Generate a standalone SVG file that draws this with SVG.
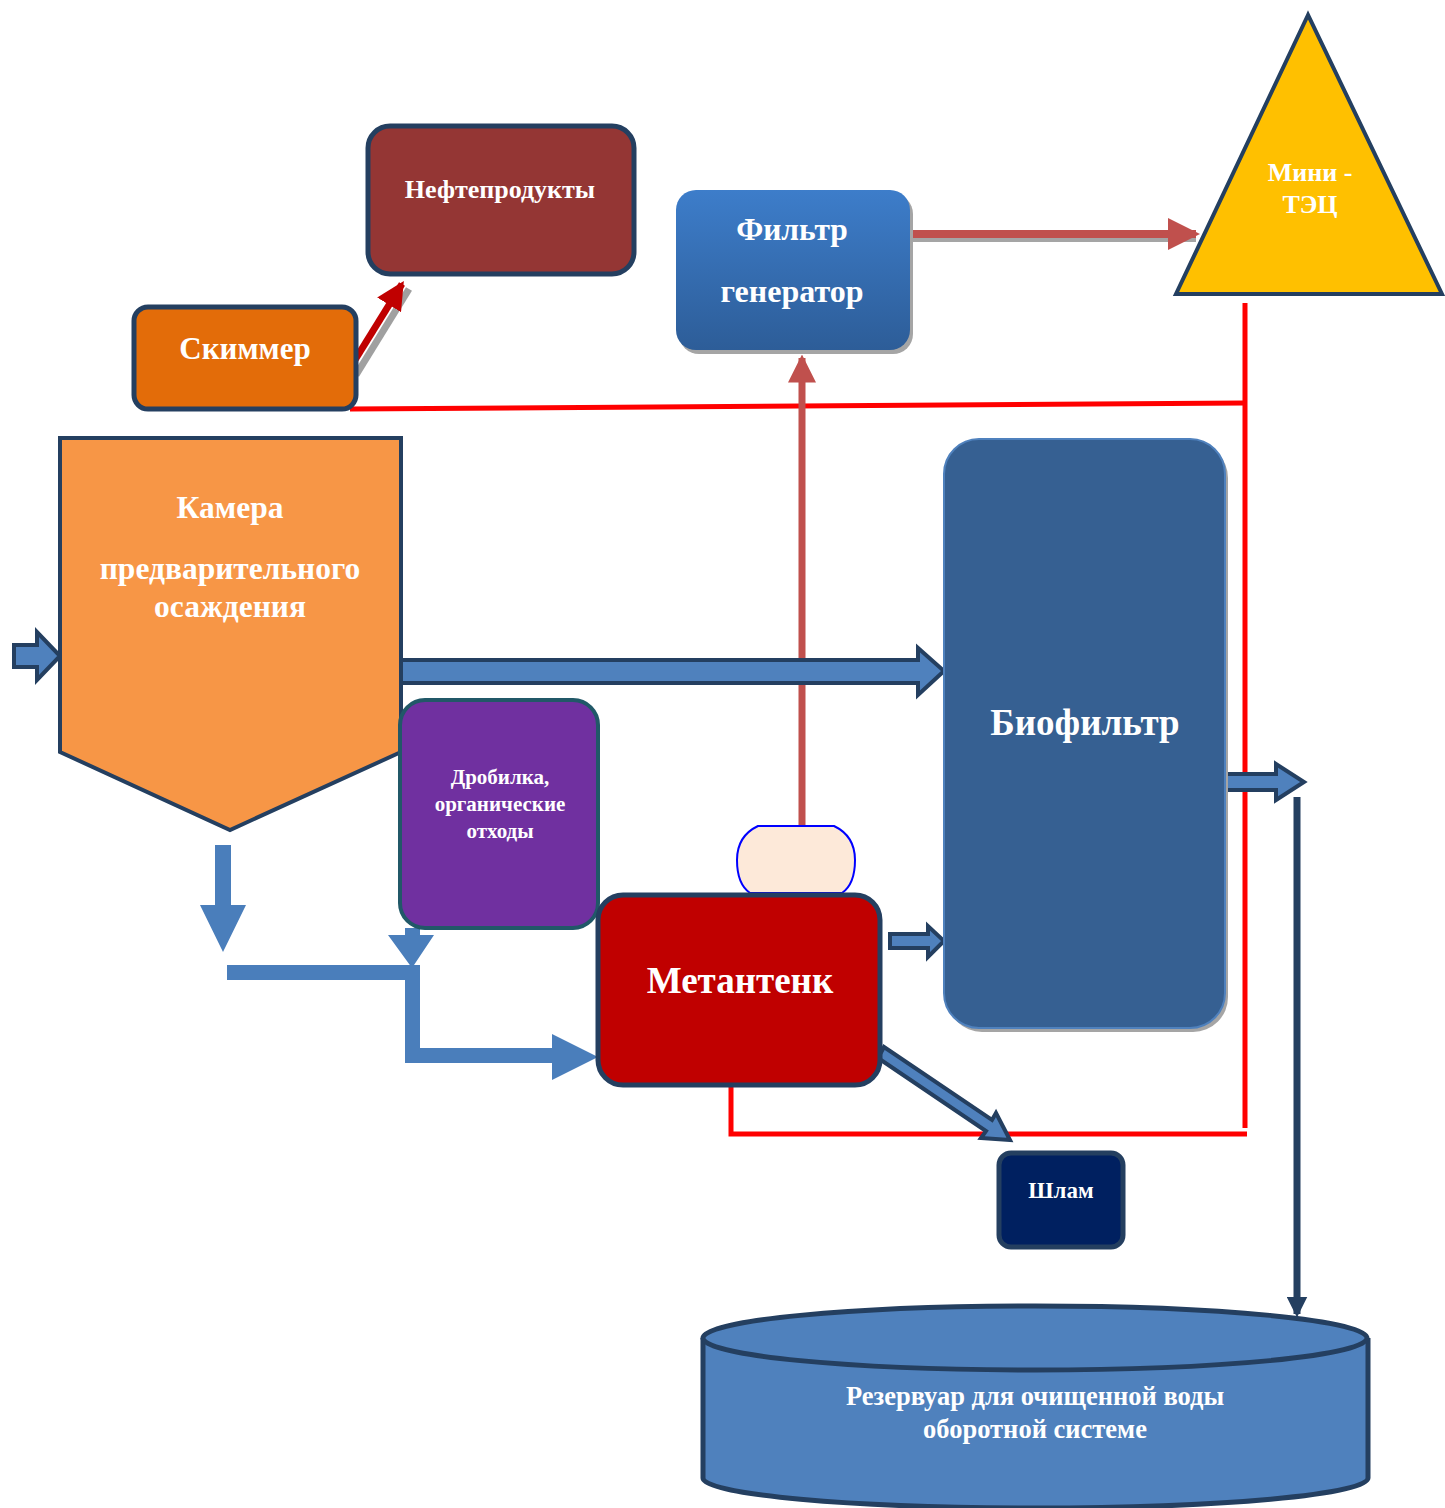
<svg xmlns="http://www.w3.org/2000/svg" width="1445" height="1508" viewBox="0 0 1445 1508">
<style>
.t{font-family:"Liberation Serif","Times New Roman",serif;font-weight:bold;fill:#fff;text-anchor:middle}
.blk{fill:#4F81BD;stroke:#243F60;stroke-width:4;stroke-linejoin:miter}
.flat{fill:#4A7EBB}
.red{fill:none;stroke:#FF0000;stroke-width:5}
</style>
<defs>
<linearGradient id="gf" x1="0" y1="0" x2="0" y2="1">
<stop offset="0" stop-color="#3D7DCA"/>
<stop offset="1" stop-color="#2D5D98"/>
</linearGradient>
<marker id="ah1" markerWidth="4" markerHeight="4" refX="3.5" refY="2" orient="auto" markerUnits="strokeWidth">
<path d="M0,0 L4,2 L0,4 Z" fill="#C00000"/>
</marker>
<marker id="ah2" markerWidth="4" markerHeight="4" refX="3.5" refY="2" orient="auto" markerUnits="strokeWidth">
<path d="M0,0 L4,2 L0,4 Z" fill="#C0504D"/>
</marker>
<marker id="ah3" markerWidth="3" markerHeight="3" refX="2.5" refY="1.5" orient="auto" markerUnits="strokeWidth">
<path d="M0,0 L3,1.5 L0,3 Z" fill="#243F60"/>
</marker>
</defs>

<g id="connectors">
<polyline class="red" points="350,409 1245,403"/>
<line class="red" x1="1245" y1="303" x2="1245" y2="1128"/>
<polyline class="red" points="731,1086 731,1134 1247,1134"/>
<line x1="353" y1="372" x2="406" y2="286" stroke="#A0A0A0" stroke-width="7" transform="translate(3,3)"/>
<line x1="350" y1="368" x2="402" y2="284" stroke="#C00000" stroke-width="7" marker-end="url(#ah1)"/>
<line x1="910" y1="238" x2="1196" y2="238" stroke="#A5A5A5" stroke-width="8"/>
<line x1="910" y1="234" x2="1196" y2="234" stroke="#C0504D" stroke-width="8" marker-end="url(#ah2)"/>
<line x1="802" y1="826" x2="802" y2="358" stroke="#C0504D" stroke-width="7" marker-end="url(#ah2)"/>
<polygon class="blk" points="14,645 37,645 37,632 60,656 37,680 37,667 14,667"/>
<polygon class="blk" points="401,660 918,660 918,648 944,671 918,695 918,683 401,683"/>
<polygon class="blk" points="1226,774 1276,774 1276,764 1304,782 1276,800 1276,790 1226,790" stroke-width="3"/>
<line x1="1297" y1="797" x2="1297" y2="1314" stroke="#243F60" stroke-width="7" marker-end="url(#ah3)"/>
<polygon class="blk" points="890,934 928,934 928,926 944,941 928,957 928,948 890,948" stroke-width="3"/>
<polygon class="blk" points="884,1047 992,1120 996,1113 1010,1140 981,1138 986,1131 878,1058" stroke-width="3"/>
<polygon class="flat" points="215,845 231,845 231,905 246,905 223,952 200,905 215,905"/>
<rect class="flat" x="227" y="965" width="193" height="15"/>
<polygon class="flat" points="405,928 420,928 420,935 434,935 412,968 388,935 405,935"/>
<polygon class="flat" points="405,965 420,965 420,1048 552,1048 552,1034 598,1057 552,1080 552,1063 405,1063"/>
</g>

<g id="neft">
<rect x="368" y="126" width="266" height="148" rx="22" fill="#943634" stroke="#243F60" stroke-width="5"/>
<text class="t" x="500" y="198" font-size="26">Нефтепродукты</text>
</g>

<g id="skimmer">
<rect x="134" y="307" width="222" height="102" rx="14" fill="#E36C09" stroke="#243F60" stroke-width="5"/>
<text class="t" x="245" y="359" font-size="31">Скиммер</text>
</g>

<g id="filter">
<rect x="679" y="194" width="234" height="160" rx="20" fill="#A5A5A5"/>
<rect x="676" y="190" width="234" height="160" rx="20" fill="url(#gf)"/>
<text class="t" x="792" y="240" font-size="31.5">Фильтр</text>
<text class="t" x="792" y="302" font-size="32">генератор</text>
</g>

<g id="minitec">
<polygon points="1308,15 1176,294 1442,294" fill="#FFC000" stroke="#243F60" stroke-width="4"/>
<text class="t" x="1310" y="181" font-size="26">Мини -</text>
<text class="t" x="1310" y="213" font-size="26">ТЭЦ</text>
</g>

<g id="kamera">
<polygon points="60,438 401,438 401,752 230,830 60,752" fill="#F79646" stroke="#243F60" stroke-width="4"/>
<text class="t" x="230" y="518" font-size="31.5">Камера</text>
<text class="t" x="230" y="579" font-size="31.5">предварительного</text>
<text class="t" x="230" y="617" font-size="31.5">осаждения</text>
</g>

<g id="biofilter">
<rect x="947" y="443" width="281" height="589" rx="35" fill="#A5A5A5"/>
<rect x="944" y="439" width="281" height="589" rx="35" fill="#366092" stroke="#4F81BD" stroke-width="2"/>
<text class="t" x="1085" y="735" font-size="37">Биофильтр</text>
</g>

<g id="drobilka">
<rect x="400" y="700" width="198" height="228" rx="25" fill="#7030A0" stroke="#215868" stroke-width="4"/>
<text class="t" x="500" y="784" font-size="21">Дробилка,</text>
<text class="t" x="500" y="811" font-size="21">органические</text>
<text class="t" x="500" y="838" font-size="21">отходы</text>
</g>

<g id="gascap">
<path d="M758,826 L834,826 Q855,836 855,860 Q855,884 842,893 L750,893 Q737,884 737,860 Q737,836 758,826 Z" fill="#FDE9D9" stroke="#0000FF" stroke-width="2"/>
</g>

<g id="metantenk">
<rect x="598" y="895" width="282" height="190" rx="25" fill="#C00000" stroke="#243F60" stroke-width="5"/>
<text class="t" x="740" y="993" font-size="37">Метантенк</text>
</g>

<g id="shlam">
<rect x="999" y="1153" width="124" height="94" rx="12" fill="#002060" stroke="#243F60" stroke-width="5"/>
<text class="t" x="1061" y="1198" font-size="23">Шлам</text>
</g>

<g id="reservoir">
<path d="M703,1338 L703,1478 A332,30 0 0 0 1368,1478 L1368,1338" fill="#4F81BD" stroke="#243F60" stroke-width="5"/>
<ellipse cx="1035" cy="1338" rx="332" ry="32" fill="#4F81BD" stroke="#243F60" stroke-width="5"/>
<text class="t" x="1035" y="1405" font-size="26.5">Резервуар для очищенной воды</text>
<text class="t" x="1035" y="1438" font-size="26.5">оборотной системе</text>
</g>
</svg>
